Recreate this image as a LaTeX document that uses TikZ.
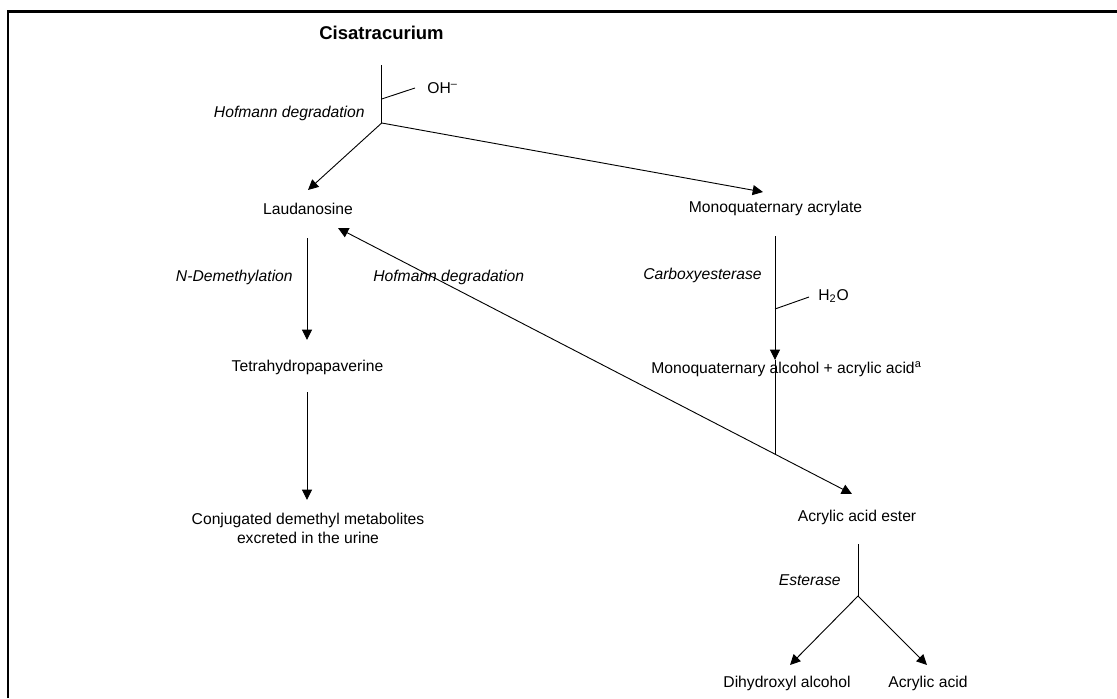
\documentclass[tikz,border=0pt]{standalone}
\usepackage{fontspec}
\setmainfont{Liberation Sans}
\usetikzlibrary{arrows.meta}
\begin{document}
\begin{tikzpicture}[x=0.6pt,y=-0.6pt,
  lbl/.style={font=\fontsize{9.4}{11.4}\selectfont, inner sep=0pt, anchor=center},
  enz/.style={font=\fontsize{9.4}{11.4}\selectfont\itshape, inner sep=0pt},
  ln/.style={line width=0.55pt},
  tip/.style={},
  arr/.style={ln,-{Triangle[length=6.2pt,width=6pt]}},
  darr/.style={ln,{Triangle[length=6.2pt,width=6pt]}-{Triangle[length=6.2pt,width=6pt]}}]
\useasboundingbox (0,0) rectangle (1117,698);
% frame (top and left only)
\draw[line width=1.5pt] (8,698) -- (8,11.5) -- (1117,11.5);

% compounds
\node[font=\fontsize{11.1}{13}\selectfont\bfseries, inner sep=0pt] (cis) at (381.5,33) {Cisatracurium};
\node[lbl] (laud) at (308,209) {Laudanosine};
\node[lbl] (mqa) at (775.5,208) {Monoquaternary acrylate};
\node[lbl] (thp) at (307.5,367) {Tetrahydropapaverine};
\node[lbl, align=center] (conj) at (308,528.5) {Conjugated demethyl metabolites\\excreted in the urine};
\node[lbl] (mqal) at (786.5,369) {Monoquaternary alcohol + acrylic acid\textsuperscript{a}};
\node[lbl] (ester) at (857,517) {Acrylic acid ester};
\node[lbl] (dihyd) at (787,683) {Dihydroxyl alcohol};
\node[lbl] (acr) at (928,683) {Acrylic acid};
\node[lbl, anchor=west] (oh) at (427,88) {OH\textsuperscript{\textendash}};
\node[lbl, anchor=west] (h2o) at (818,296) {H\textsubscript{2}O};

% enzymes / reactions
\node[enz, anchor=east] (hof1) at (365,113) {Hofmann degradation};
\node[enz, anchor=east] (ndem) at (293,277) {N-Demethylation};
\node[enz, anchor=west] (hof2) at (373,277) {Hofmann degradation};
\node[enz, anchor=east] (carb) at (762,275) {Carboxyesterase};
\node[enz, anchor=east] (est) at (841,580) {Esterase};

% connector points
\coordinate (cisbot) at (381.7,65);
\coordinate (ohj) at (381.7,99);
\coordinate (ohend) at (415,88);
\coordinate (j1) at (381.7,123);
\coordinate (laudtip) at (308,190);
\coordinate (mqatip) at (763,192);
\coordinate (laudbot) at (307,238);
\coordinate (thptip) at (307,340);
\coordinate (laudtip2) at (338,228);
\coordinate (estertip) at (852,494);
\coordinate (mqabot) at (775,236);
\coordinate (h2oj) at (775,309);
\coordinate (h2oend) at (809,297);
\coordinate (mqaltip) at (775,360);
\coordinate (j2) at (775,454);
\coordinate (thpbot) at (307,392);
\coordinate (conjtip) at (307,500);
\coordinate (esterbot) at (858,544);
\coordinate (j3) at (858,596);
\coordinate (dtip) at (790,665);
\coordinate (atip) at (927,665);

% connectors
\draw[ln] (cisbot) -- (j1);
\draw[ln] (ohj) -- (ohend);
\draw[arr] (j1) -- (laudtip);
\draw[arr] (j1) -- (mqatip);
\draw[arr] (laudbot) -- (thptip);
\draw[darr] (estertip) -- (laudtip2);
\draw[arr] (mqabot) -- (mqaltip);
\draw[ln] (h2oj) -- (h2oend);
\draw[ln] (mqaltip) -- (j2);
\draw[arr] (thpbot) -- (conjtip);
\draw[ln] (esterbot) -- (j3);
\draw[arr] (j3) -- (dtip);
\draw[arr] (j3) -- (atip);
\end{tikzpicture}
\end{document}
